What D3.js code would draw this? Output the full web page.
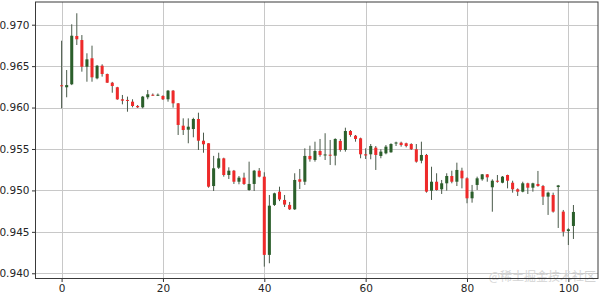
<!DOCTYPE html>
<html><head><meta charset="utf-8">
<script src="https://cdn.jsdelivr.net/npm/d3@7/dist/d3.min.js"></script>
<style>html,body{margin:0;padding:0;background:#fff;overflow:hidden}</style>
</head><body>
<svg id="c" width="600" height="294"></svg>
<script>
const open = [
0.96269,0.96245,0.96281,0.96864,0.96815,0.96493,0.96595,0.96353,0.96505,0.96405,
0.96300,0.96245,0.96100,0.96092,0.96071,0.96019,0.96003,0.96124,0.96155,0.96148,
0.96140,0.96100,0.96204,0.96051,0.95781,0.95733,0.95741,0.95862,0.95600,0.95569,
0.95053,0.95274,0.95387,0.95186,0.95238,0.95105,0.95154,0.95005,0.95078,0.95238,
0.95166,0.94222,0.94825,0.94985,0.94885,0.94825,0.94772,0.95134,0.95105,0.95416,
0.95367,0.95476,0.95422,0.95431,0.95419,0.95597,0.95488,0.95717,0.95660,0.95629,
0.95436,0.95436,0.95516,0.95416,0.95448,0.95460,0.95572,0.95576,0.95569,0.95560,
0.95497,0.95359,0.95428,0.94997,0.95105,0.95014,0.95086,0.95174,0.95105,0.95238,
0.95146,0.94905,0.95066,0.95134,0.95194,0.95038,0.95117,0.95093,0.95186,0.95093,
0.95014,0.94985,0.95086,0.95033,0.95078,0.95053,0.94925,0.94945,0.95041,0.94744,
0.94510,0.94571];
const high = [
0.96807,0.96453,0.97005,0.97138,0.96875,0.96655,0.96747,0.96514,0.96522,0.96410,
0.96310,0.96250,0.96152,0.96132,0.96100,0.96031,0.96140,0.96212,0.96170,0.96170,
0.96148,0.96212,0.96212,0.96055,0.95870,0.95870,0.95877,0.95938,0.95697,0.95570,
0.95417,0.95455,0.95395,0.95279,0.95247,0.95174,0.95214,0.95347,0.95247,0.95270,
0.95219,0.94945,0.94973,0.95045,0.94945,0.94861,0.95207,0.95259,0.95508,0.95540,
0.95588,0.95621,0.95690,0.95609,0.95629,0.95621,0.95757,0.95729,0.95669,0.95637,
0.95508,0.95560,0.95536,0.95497,0.95548,0.95569,0.95588,0.95588,0.95576,0.95569,
0.95560,0.95588,0.95440,0.95286,0.95207,0.95126,0.95207,0.95238,0.95335,0.95274,
0.95158,0.95066,0.95166,0.95198,0.95198,0.95134,0.95186,0.95174,0.95190,0.95117,
0.95025,0.95105,0.95093,0.95093,0.95235,0.95066,0.94985,0.94973,0.95066,0.94764,
0.94543,0.94824];
const low = [
0.95991,0.96124,0.96271,0.96755,0.96433,0.96312,0.96312,0.96341,0.96373,0.96297,
0.96179,0.96094,0.96039,0.95950,0.96003,0.95995,0.95991,0.96100,0.96140,0.96140,
0.96091,0.96071,0.95999,0.95669,0.95669,0.95569,0.95641,0.95488,0.95455,0.95033,
0.94993,0.95259,0.95166,0.95138,0.95078,0.95074,0.95066,0.94995,0.94993,0.95158,
0.94080,0.94121,0.94812,0.94871,0.94800,0.94764,0.94764,0.95017,0.95066,0.95347,
0.95347,0.95407,0.95367,0.95307,0.95303,0.95468,0.95468,0.95648,0.95588,0.95388,
0.95379,0.95376,0.95247,0.95388,0.95436,0.95455,0.95536,0.95528,0.95520,0.95488,
0.95335,0.95327,0.94973,0.94885,0.94997,0.94957,0.94997,0.95086,0.95053,0.95025,
0.94845,0.94852,0.95005,0.95117,0.95105,0.94743,0.95093,0.95086,0.95025,0.94973,
0.94933,0.94977,0.94957,0.94985,0.95045,0.94824,0.94704,0.94732,0.94547,0.94444,
0.94341,0.94414];
const close = [
0.96260,0.96271,0.96867,0.96824,0.96493,0.96582,0.96365,0.96505,0.96405,0.96300,
0.96260,0.96099,0.96083,0.96080,0.96019,0.96003,0.96132,0.96160,0.96148,0.96155,
0.96100,0.96204,0.96051,0.95790,0.95729,0.95769,0.95862,0.95600,0.95557,0.95045,
0.95267,0.95387,0.95186,0.95238,0.95105,0.95154,0.95078,0.95078,0.95238,0.95166,
0.94222,0.94816,0.94965,0.94891,0.94829,0.94772,0.95126,0.95105,0.95416,0.95376,
0.95476,0.95428,0.95434,0.95422,0.95621,0.95488,0.95717,0.95669,0.95621,0.95436,
0.95422,0.95536,0.95428,0.95468,0.95528,0.95560,0.95578,0.95548,0.95536,0.95497,
0.95347,0.95428,0.94985,0.95105,0.95005,0.95086,0.95174,0.95105,0.95247,0.95146,
0.94905,0.94985,0.95146,0.95194,0.95158,0.95117,0.95105,0.95166,0.95117,0.95014,
0.94985,0.95086,0.95033,0.95086,0.95053,0.94925,0.94973,0.94744,0.95060,0.94502,
0.94531,0.94740];
const xTicks = [0, 20, 40, 60, 80, 100];
const yTicks = [0.940, 0.945, 0.950, 0.955, 0.960, 0.965, 0.970];
const watermark = "@稀土掘金技术社区";

const data = open.map((o, i) => ({i, o, h: high[i], l: low[i], c: close[i]}));

const L = 35.5, R = 598, T = 2, B = 278.5;
const x = d3.scaleLinear().domain([-5.15, 105.85]).range([L, R]);
const y = d3.scaleLinear().domain([0.93937, 0.97274]).range([B, T]);

const svg = d3.select("#c");
const font = "DejaVu Sans, sans-serif";

// grid
const g = svg.append("g");
g.selectAll(".gx").data(xTicks).join("line")
  .attr("x1", d => Math.round(x(d)) + 0.5).attr("x2", d => Math.round(x(d)) + 0.5)
  .attr("y1", T).attr("y2", B).attr("stroke", "#c8c8c8").attr("stroke-width", 1);
g.selectAll(".gy").data(yTicks).join("line")
  .attr("y1", d => Math.round(y(d)) + 0.5).attr("y2", d => Math.round(y(d)) + 0.5)
  .attr("x1", L).attr("x2", R).attr("stroke", "#c8c8c8").attr("stroke-width", 1);

// watermark (behind the marks, faint)
svg.append("text").attr("x", 596).attr("y", 281).attr("text-anchor", "end")
  .style("font-family", "Noto Sans CJK SC, sans-serif").style("font-size", "12px")
  .attr("fill", "#d4d4d4").text(watermark);

// candles
const bw = x(0.3) - x(0);
const up = "#2b5f2b", down = "#ee2a2a", wick = "#4a5a4a";
const cg = svg.append("g");
cg.selectAll("line.w").data(data).join("line")
  .attr("x1", d => x(d.i)).attr("x2", d => x(d.i))
  .attr("y1", d => y(d.h)).attr("y2", d => y(d.l))
  .attr("stroke", wick).attr("stroke-width", 1);
cg.selectAll("rect").data(data).join("rect")
  .attr("x", d => x(d.i) - bw).attr("width", 2 * bw)
  .attr("y", d => y(Math.max(d.o, d.c)))
  .attr("height", d => Math.max(1, Math.abs(y(d.o) - y(d.c))))
  .attr("fill", d => d.c >= d.o ? up : down);

// axes
const xAxis = d3.axisBottom(x).tickValues(xTicks).tickSize(3.5).tickPadding(3).tickFormat(d3.format("d"));
const yAxis = d3.axisLeft(y).tickValues(yTicks).tickSize(3.5).tickPadding(2.5).tickFormat(d3.format(".3f"));
const ax = svg.append("g").attr("transform", `translate(0,${B})`).call(xAxis);
const ay = svg.append("g").attr("transform", `translate(${L},0)`).call(yAxis);
[ax, ay].forEach(a => {
  a.select(".domain").remove();
  a.selectAll("line").attr("stroke", "#333");
  a.selectAll("text").attr("fill", "#262626").style("font-family", font).style("font-size", "10.5px");
});

// spines
svg.append("rect").attr("x", L).attr("y", T).attr("width", R - L).attr("height", B - T)
  .attr("fill", "none").attr("stroke", "#3a3a3a").attr("stroke-width", 1);
</script>
</body></html>
